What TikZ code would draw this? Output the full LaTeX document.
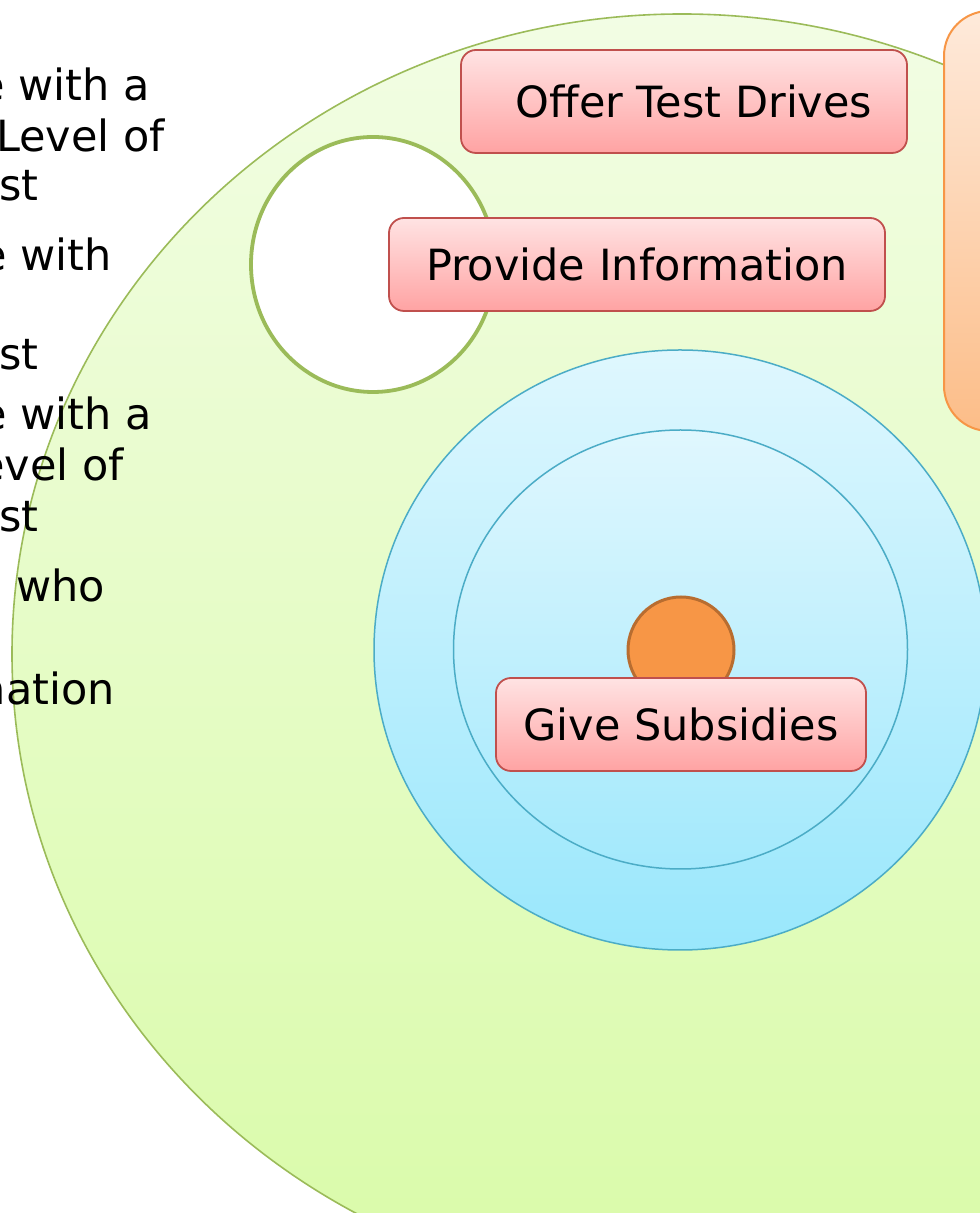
\documentclass[tikz,border=0pt]{standalone}
\usepackage{fontspec}
\setmainfont{DejaVu Sans}
\definecolor{grnline}{HTML}{9BBB59}
\definecolor{grntop}{HTML}{F2FDE4}
\definecolor{grnbot}{HTML}{D9FBA8}
\definecolor{blueline}{HTML}{4BACC6}
\definecolor{bluetop}{HTML}{DFF7FE}
\definecolor{bluebot}{HTML}{99E7FC}
\definecolor{bluetopb}{HTML}{E0F7FE}
\definecolor{bluebotb}{HTML}{A3E9FC}
\definecolor{pinkline}{HTML}{C0504D}
\definecolor{pinktop}{HTML}{FFE3E3}
\definecolor{pinkbot}{HTML}{FFA3A3}
\definecolor{orline}{HTML}{F79646}
\definecolor{ortop}{HTML}{FEEADB}
\definecolor{orbot}{HTML}{FCBD88}
\definecolor{orfill}{HTML}{F79646}
\definecolor{ordark}{HTML}{B86D30}
\tikzset{
  pinkbox/.style={draw=pinkline, line width=1.8pt, rounded corners=15pt,
    top color=pinktop, bottom color=pinkbot, inner sep=0pt,
    font=\fontsize{43}{50}\selectfont, text=black},
  sidetext/.style={anchor=base east, inner sep=0pt, font=\fontsize{43}{50}\selectfont, text=black}
}
\begin{document}
\begin{tikzpicture}[x=1pt,y=1pt]
\useasboundingbox (0,0) rectangle (980,1213);
% big green ellipse
\path[draw=grnline, line width=1.6pt, top color=grntop, bottom color=grnbot]
  (682,559) ellipse [x radius=670, y radius=640];
% white circle
\path[draw=grnline, line width=3.8pt, fill=white]
  (373,948.5) ellipse [x radius=122, y radius=127.5];
% blue ellipses
\path[draw=blueline, line width=1.5pt, top color=bluetop, bottom color=bluebot]
  (680,563) ellipse [x radius=306, y radius=300];
\path[draw=blueline, line width=1.5pt, top color=bluetopb, bottom color=bluebotb]
  (680.5,563.5) ellipse [x radius=227, y radius=219.5];
% orange circle
\node[circle, draw=ordark, line width=3pt, fill=orfill, minimum size=106pt, inner sep=0pt] (oc) at (681,563) {};
% orange rounded rectangle (right, cropped)
\node[draw=orline, line width=2pt, rounded corners=45pt, top color=ortop, bottom color=orbot,
  minimum width=140pt, minimum height=420pt, inner sep=0pt, anchor=north west] (orr) at (943,1203) {};
% pink boxes
\node[pinkbox, minimum width=446pt, minimum height=103pt] (otd) at (684,1111.5) {\hspace*{20pt}Offer Test Drives};
\node[pinkbox, minimum width=496pt, minimum height=93pt] (pi) at (637,948.5) {Provide Information};
\node[pinkbox, minimum width=370pt, minimum height=93pt] (gs) at (681,488.5) {Give Subsidies};
% left text fragments
\node[sidetext] (t1) at (150,1112) {e with a};
\node[sidetext, anchor=base west] (t2) at (-4,1061) {Level of};
\node[sidetext] (t3) at (39,1012) {st};
\node[sidetext] (t4) at (112,942) {e with};
\node[sidetext] (t5) at (39,843) {st};
\node[sidetext] (t6) at (152,783) {e with a};
\node[sidetext] (t7) at (124,732) {evel of};
\node[sidetext] (t8) at (39,681) {st};
\node[sidetext] (t9) at (105,611) {who};
\node[sidetext] (t10) at (115,508) {nation};
\end{tikzpicture}
\end{document}
